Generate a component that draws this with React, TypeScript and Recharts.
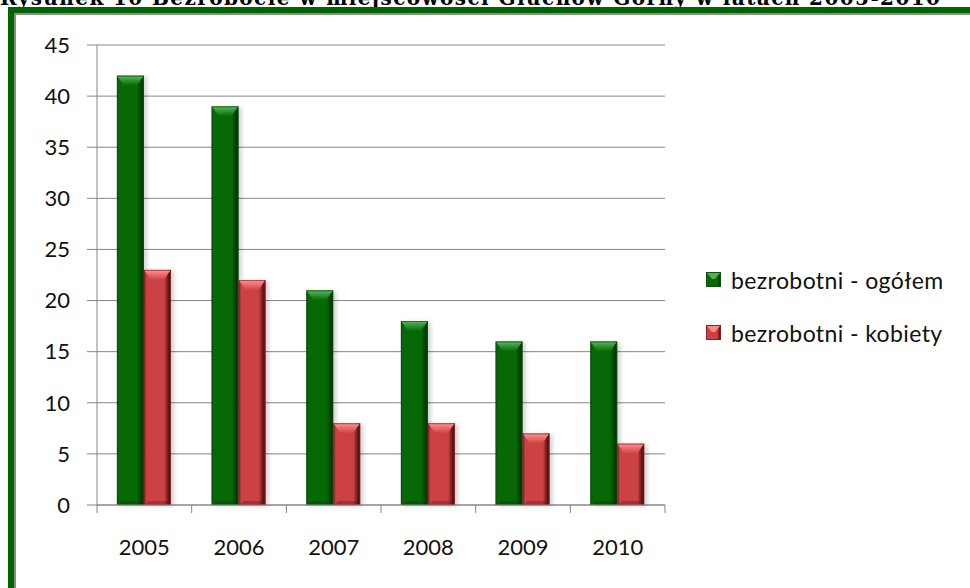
import React from 'react';
import { BarChart, Bar, XAxis, YAxis, CartesianGrid, Legend } from 'recharts';

const years = ['2005', '2006', '2007', '2008', '2009', '2010'];
const ogolem = [42, 39, 21, 18, 16, 16];
const kobiety = [23, 22, 8, 8, 7, 6];
const yTicks = [0, 5, 10, 15, 20, 25, 30, 35, 40, 45];

const data = years.map((year, i) => ({ year, ogolem: ogolem[i], kobiety: kobiety[i] }));

const FONT = 'Lato, "Open Sans", sans-serif';
const GRID = '#868686';

const palettes = {
  green: { id: 'g', main: '#066906', dark: '#003a00', light: '#4fb04f', edge: '#0f4f0f' },
  red: { id: 'r', main: '#cc4242', dark: '#5e1212', light: '#ff8a8a', edge: '#8a2020' },
};

type Pal = typeof palettes.green;

function makeBar(pal: Pal) {
  return (props: any) => {
    const { x, y, width: w, height: h } = props;
    if (!h || h <= 0) return null;
    const bev = Math.min(10, h / 3);
    return (
      <g>
        <rect x={x + 3} y={y + 1} width={w} height={h} fill="rgba(0,0,0,0.18)" filter="url(#soft)" />
        <rect x={x} y={y} width={w} height={h} fill={`url(#${pal.id}H)`} />
        <polygon
          points={`${x + 1},${y + 1} ${x + w - 1},${y + 1} ${x + w - 7},${y + bev} ${x + 7},${y + bev}`}
          fill={`url(#${pal.id}T)`}
        />
        <rect x={x + 1} y={y} width={w - 2} height={2} fill={pal.light} opacity={0.8} />
        <polygon
          points={`${x + 1},${y + h} ${x + w - 1},${y + h} ${x + w - 5},${y + h - 4} ${x + 5},${y + h - 4}`}
          fill={pal.dark}
          opacity={0.35}
        />
        <rect x={x + 0.5} y={y + 0.5} width={w - 1} height={h - 1} fill="none" stroke={pal.edge} strokeWidth={1} opacity={0.6} />
      </g>
    );
  };
}

const GreenBar = makeBar(palettes.green);
const RedBar = makeBar(palettes.red);

function Defs() {
  return (
    <svg width={0} height={0} style={{ position: 'absolute' }}>
      <defs>
        <filter id="soft" x="-50%" y="-10%" width="200%" height="120%">
          <feGaussianBlur stdDeviation="2" />
        </filter>
        {[palettes.green, palettes.red].map((p) => (
          <React.Fragment key={p.id}>
            <linearGradient id={`${p.id}H`} x1="0" y1="0" x2="1" y2="0">
              <stop offset="0" stopColor={p.dark} stopOpacity={0.9} />
              <stop offset="0.1" stopColor={p.main} />
              <stop offset="0.75" stopColor={p.main} />
              <stop offset="0.92" stopColor={p.dark} />
              <stop offset="1" stopColor={p.dark} />
            </linearGradient>
            <linearGradient id={`${p.id}T`} x1="0" y1="0" x2="0" y2="1">
              <stop offset="0" stopColor={p.light} />
              <stop offset="1" stopColor={p.main} />
            </linearGradient>
          </React.Fragment>
        ))}
      </defs>
    </svg>
  );
}

function XTick(props: any) {
  const { x, y, payload, index } = props;
  const off = payload.offset || 0;
  return (
    <g>
      <line x1={x - off} y1={y} x2={x - off} y2={y + 8} stroke={GRID} />
      {index === years.length - 1 && <line x1={x + off} y1={y} x2={x + off} y2={y + 8} stroke={GRID} />}
      <text x={x} y={y + 50} textAnchor="middle" fontFamily={FONT} fontSize={22} fill="#111">
        {payload.value}
      </text>
    </g>
  );
}

function LegendSwatch({ pal }: { pal: Pal }) {
  return (
    <svg width={15} height={15} style={{ display: 'block' }}>
      <rect x={0} y={0} width={15} height={15} fill={`url(#${pal.id}H)`} />
      <polygon points="1,1 14,1 9,7 6,7" fill={pal.light} />
      <rect x={0.5} y={0.5} width={14} height={14} fill="none" stroke={pal.edge} />
    </svg>
  );
}

function LegendBox() {
  const items = [
    { label: 'bezrobotni - ogółem', pal: palettes.green },
    { label: 'bezrobotni - kobiety', pal: palettes.red },
  ];
  return (
    <div>
      {items.map((it) => (
        <div key={it.label} style={{ display: 'flex', alignItems: 'center', height: 53 }}>
          <LegendSwatch pal={it.pal} />
          <span style={{ marginLeft: 10, fontFamily: FONT, fontSize: 23, letterSpacing: 0.4, color: '#111', whiteSpace: 'nowrap' }}>
            {it.label}
          </span>
        </div>
      ))}
    </div>
  );
}

export default function App() {
  return (
    <div style={{ position: 'fixed', left: 0, top: 0, width: 970, height: 588, overflow: 'hidden', background: '#fff' }}>
      <Defs />
      <svg width={970} height={10} style={{ position: 'absolute', left: 0, top: 0 }}>
        <text x={0} y={4.5} fontFamily='"DejaVu Serif", serif' fontWeight="bold" fontSize={20} textLength={940} fill="#000">
          Rysunek 10 Bezrobocie w miejscowości Głuchów Górny w latach 2005-2010
        </text>
      </svg>
      <div
        style={{
          position: 'absolute', left: 8, top: 7, width: 1100, height: 800,
          borderLeft: '6px solid #006400', borderTop: '6px solid #006400',
        }}
      >
        <div style={{ width: '100%', height: '100%', borderLeft: '2px solid #8c8c8c', borderTop: '2px solid #8c8c8c' }} />
      </div>
      <div style={{ position: 'absolute', left: 0, top: 0 }}>
        <BarChart
          width={970}
          height={588}
          data={data}
          margin={{ top: 45, right: 305, left: 0, bottom: 43 }}
          barCategoryGap="21%"
          barGap={0}
        >
          <CartesianGrid vertical={false} stroke={GRID} strokeWidth={1} />
          <XAxis
            dataKey="year"
            height={40}
            axisLine={{ stroke: GRID }}
            tickLine={false}
            tickSize={0}
            tickMargin={0}
            tick={<XTick />}
            interval={0}
          />
          <YAxis
            width={97}
            domain={[0, 45]}
            ticks={yTicks}
            interval={0}
            axisLine={{ stroke: GRID }}
            tickLine={{ stroke: GRID }}
            tickSize={10}
            tickMargin={17}
            tick={{ fontFamily: FONT, fontSize: 22, fill: '#111' }}
          />
          <Legend
            layout="vertical"
            align="center"
            verticalAlign="middle"
            content={<LegendBox />}
            wrapperStyle={{ position: 'absolute', left: 706, top: 253, width: 260 }}
          />
          <Bar dataKey="ogolem" name="bezrobotni - ogółem" shape={GreenBar} isAnimationActive={false} />
          <Bar dataKey="kobiety" name="bezrobotni - kobiety" shape={RedBar} isAnimationActive={false} />
        </BarChart>
      </div>
    </div>
  );
}
